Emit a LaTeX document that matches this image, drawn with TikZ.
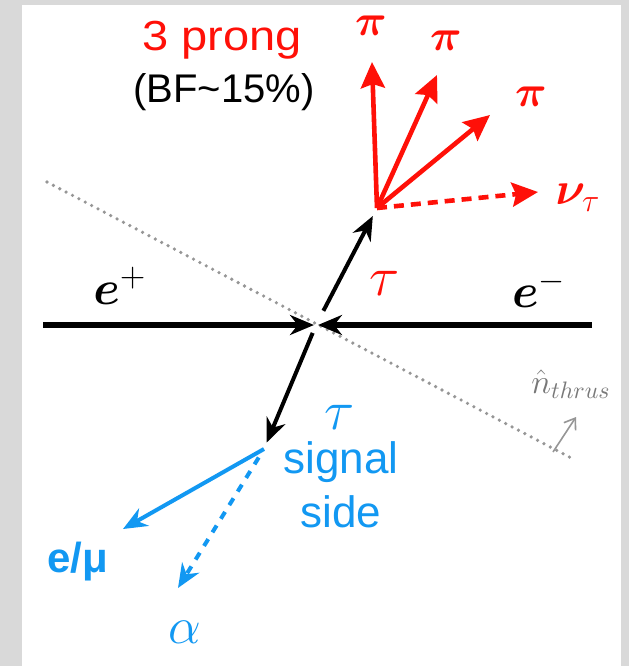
\RequirePackage{fix-cm}
\documentclass[tikz,border=0pt]{standalone}
\usepackage{amsmath,bm}
\usepackage{fontspec}
\setmainfont{Liberation Sans}
\usepackage{graphicx}
\usetikzlibrary{arrows.meta, positioning, calc}
\definecolor{framegray}{RGB}{217,217,217}
\definecolor{prongred}{RGB}{255,16,8}
\definecolor{signalblue}{RGB}{18,152,242}
\definecolor{thrustgray}{RGB}{150,150,150}
\newcommand{\fs}[1]{\fontsize{#1}{#1}\selectfont}

\begin{document}
\begin{tikzpicture}[x=0.5pt, y=-0.5pt,
  beam/.style={line width=2.8pt, -{Stealth[length=12pt, width=10pt]}},
  tauline/.style={line width=2pt, -{Stealth[length=12pt, width=10pt]}},
  pion/.style={prongred, line width=2.3pt, -{Stealth[length=13pt, width=12pt, inset=2pt]}},
  nuline/.style={pion, dash pattern=on 5pt off 3.5pt},
  lepton/.style={signalblue, line width=2pt, -{Stealth[length=12pt, width=10pt]}},
  lbl/.style={inner sep=0pt}]
  % frame
  \fill[framegray] (0,0) rectangle (629,666);
  \fill[white] (22,5) rectangle (621,666);
  \useasboundingbox (0,0) rectangle (629,666);

  % vertices and end points
  \coordinate (ip) at (316,325);
  \coordinate (bl) at (43,325);
  \coordinate (br) at (592,325);
  \coordinate (tdec) at (377,208);
  \coordinate (sdec) at (264,449);
  \coordinate (thA) at (47,182);
  \coordinate (thB) at (575,460);
  \coordinate (pia) at (372,62);
  \coordinate (pib) at (437,75);
  \coordinate (pic) at (490,115);
  \coordinate (nut) at (538,192);
  \coordinate (lep) at (123,529);
  \coordinate (alp) at (178,588);
  \coordinate (nA) at (553,452);
  \coordinate (nB) at (576,417);

  % thrust axis
  \draw[thrustgray, line width=1.8pt, line cap=round, dash pattern=on 0pt off 3.6pt] (thA) -- (thB);
  \draw[thrustgray, line width=0.8pt, -{Straight Barb[length=5pt, width=7pt]}] (nA) -- (nB);
  \node[lbl, text=thrustgray!80!black, font=\fs{17}] (nthr) at (571,384) {$\hat{n}_{thrus}$};

  % beams
  \draw[beam] (bl) -- ([xshift=-1pt]ip);
  \draw[beam] (br) -- ([xshift=1pt]ip);
  \node[lbl, font=\fs{24}] (eplus) at (120,286) {$\bm{e}^{+}$};
  \node[lbl, font=\fs{24}] (eminus) at (539,289) {$\bm{e}^{-}$};

  % tau pair
  \draw[tauline, shorten <=8pt, shorten >=4.5pt] (ip) -- (tdec);
  \draw[tauline, shorten <=4.3pt, shorten >=3.5pt] (ip) -- (sdec);
  \node[lbl, text=prongred, font=\fs{28}] (taup) at (385,283) {$\tau$};
  \node[lbl, text=signalblue, font=\fs{28}] (taus) at (340,417) {$\tau$};

  % 3 prong side
  \draw[pion] (tdec) -- (pia);
  \draw[pion] (tdec) -- (pib);
  \draw[pion] (tdec) -- (pic);
  \draw[nuline] (tdec) -- (nut);
  \node[lbl, text=prongred, font=\fs{22}] (pilA) at (371,26) {$\bm{\pi}$};
  \node[lbl, text=prongred, font=\fs{22}] (pilB) at (446,41) {$\bm{\pi}$};
  \node[lbl, text=prongred, font=\fs{22}] (pilC) at (531,97) {$\bm{\pi}$};
  \node[lbl, text=prongred, font=\fs{23}] (nulbl) at (578,198) {$\bm{\nu}_{\tau}$};
  \node[lbl, anchor=base, text=prongred, font=\fs{21}] (prong) at (222,50) {\scalebox{1.12}[1]{3 prong}};
  \node[lbl, anchor=base, font=\fs{20}] (bf) at (224,102) {(BF\textasciitilde15\%)};

  % signal side
  \draw[lepton] (sdec) -- (lep);
  \draw[lepton, dash pattern=on 4pt off 4pt, shorten <=5pt] (sdec) -- (alp);
  \node[lbl, anchor=base, text=signalblue, font=\fs{22}] (sig) at (341,473) {signal};
  \node[lbl, anchor=base, text=signalblue, font=\fs{22}] (side) at (341,527) {side};
  \node[lbl, anchor=base, text=signalblue, font=\fs{21}\bfseries] (emu) at (78,572) {e/μ};
  \node[lbl, text=signalblue, font=\fs{26}] (alpha) at (185,632) {$\alpha$};
\end{tikzpicture}
\end{document}
